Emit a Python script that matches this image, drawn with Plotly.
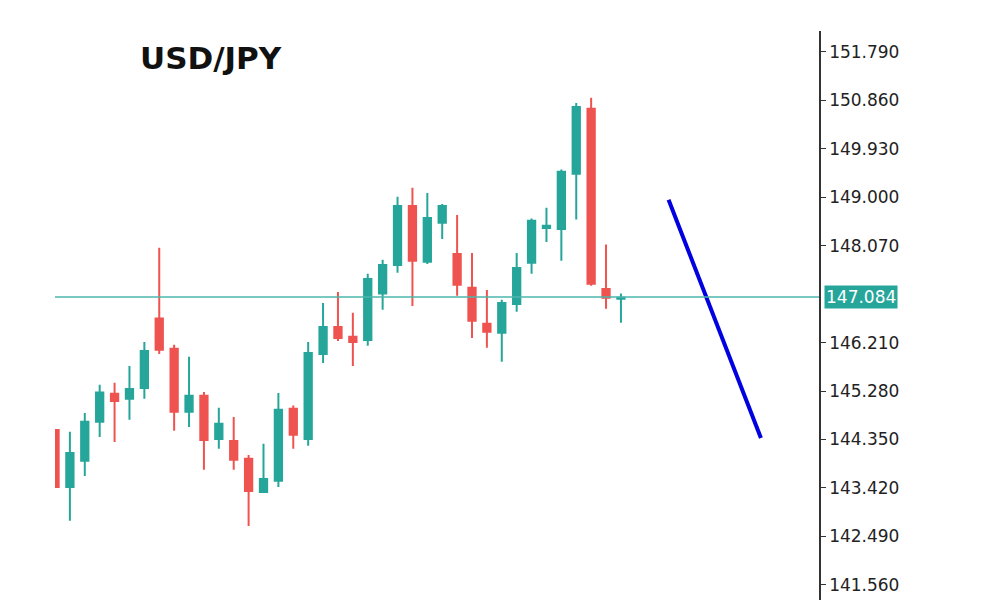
import plotly.graph_objects as go

idx = list(range(39))
opens  = [144.53,143.44,143.94,144.69,145.23,145.13,145.34,146.67,146.09,144.88,145.19,144.36,144.32,143.98,143.34,143.56,144.94,144.36,145.99,146.51,146.32,146.26,147.15,147.70,148.83,147.76,148.51,147.91,147.26,146.57,146.40,146.95,147.74,148.41,148.39,149.45,150.70,147.24,147.05]
highs  = [144.53,144.50,144.86,145.40,145.44,145.76,146.22,148.03,146.17,145.94,145.26,144.96,144.78,144.05,144.27,145.24,145.00,146.22,146.97,147.18,146.78,147.53,147.80,149.01,149.18,149.08,148.87,148.66,147.93,147.22,147.03,147.93,148.59,148.80,149.53,150.81,150.91,148.09,147.15]
lows   = [143.44,142.79,143.65,144.40,144.30,144.73,145.13,145.99,144.52,144.59,143.77,144.17,143.77,142.69,143.34,143.44,144.17,144.23,145.82,146.24,145.76,146.15,146.84,147.55,146.91,147.72,148.20,147.11,146.30,146.11,145.84,146.80,147.53,148.14,147.78,148.57,147.30,146.86,146.59]
closes = [143.44,144.09,144.69,145.25,145.09,145.32,146.05,146.07,144.88,145.19,144.34,144.65,143.96,143.36,143.59,144.92,144.44,146.01,146.51,146.30,146.22,147.43,147.70,148.83,147.78,148.60,148.83,147.32,146.63,146.42,146.97,147.64,148.55,148.45,149.49,150.73,147.34,147.07,147.07]
current_price = 147.084
proj_x = [41.2, 47.4]
proj_y = [148.95, 144.38]
tick_vals = [141.56, 142.49, 143.42, 144.35, 145.28, 146.21, 147.14, 148.07, 149.00, 149.93, 150.86, 151.79]
title = "USD/JPY"

GREEN = "#26a69a"
RED = "#ef5350"

fig = go.Figure()
fig.add_trace(go.Candlestick(
    x=idx, open=opens, high=highs, low=lows, close=closes,
    increasing=dict(line=dict(color=GREEN, width=2), fillcolor=GREEN),
    decreasing=dict(line=dict(color=RED, width=2), fillcolor=RED),
    whiskerwidth=0, showlegend=False, hoverinfo="skip"))
fig.add_trace(go.Scatter(x=proj_x, y=proj_y, mode="lines",
                         line=dict(color="#0000e0", width=4), showlegend=False))
fig.add_shape(type="line", xref="paper", x0=0, x1=1, yref="y",
              y0=current_price, y1=current_price, line=dict(color="#4db6ac", width=1.5))

shown = [v for v in tick_vals if abs(v - 147.14) > 0.01]
fig.update_layout(
    width=1000, height=600, plot_bgcolor="white", paper_bgcolor="white",
    margin=dict(l=47, r=189, t=23, b=7),
    xaxis=dict(range=[0, 51.3], visible=False, rangeslider=dict(visible=False)),
    yaxis=dict(range=[141.25, 152.19], side="right", showgrid=False, zeroline=False,
               tickvals=shown, ticktext=[f"{v:.3f}" for v in shown],
               ticks="outside", ticklen=5, tickcolor="#333", showline=True,
               linecolor="#333", linewidth=1.5,
               tickfont=dict(family="DejaVu Sans", size=17, color="#222")),
    annotations=[
        dict(text="<b>" + title + "</b>", xref="paper", yref="paper", x=0.108, y=0.952,
             xanchor="left", yanchor="middle", showarrow=False,
             font=dict(family="DejaVu Sans", size=31, color="#111")),
        dict(text=f"{current_price:.3f}", xref="paper", yref="y", x=1.007, y=current_price,
             xanchor="left", yanchor="middle", showarrow=False, bgcolor=GREEN,
             font=dict(family="DejaVu Sans", size=17, color="white"), borderpad=1),
    ],
)
fig.write_html("out.html")
